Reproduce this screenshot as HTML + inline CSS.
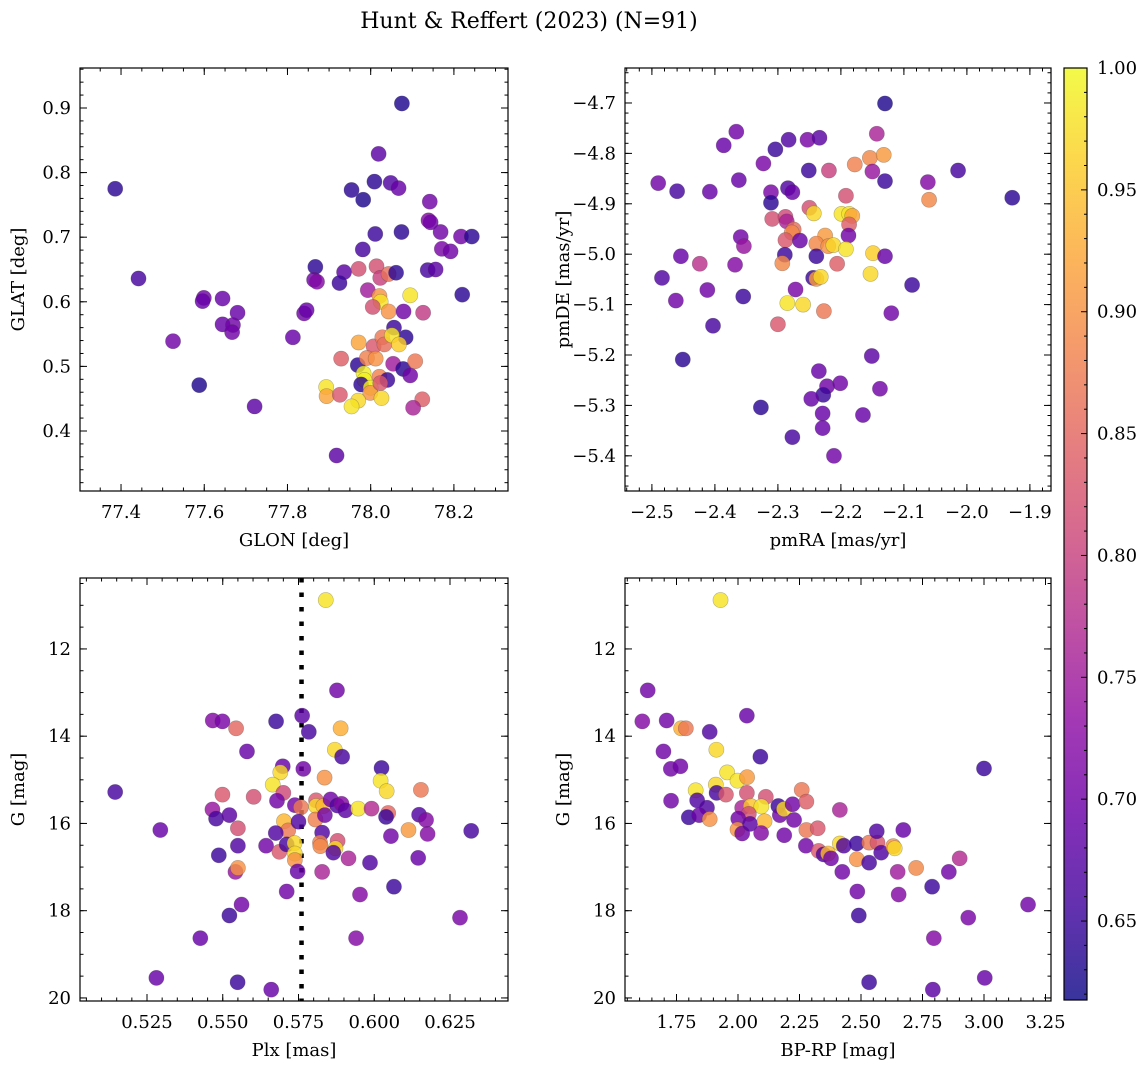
<!DOCTYPE html>
<html><head><meta charset="utf-8"><style>
body{margin:0;background:#fff;}
svg{display:block;font-family:"DejaVu Serif","Liberation Serif",serif;}
</style></head><body>
<svg id="fig" width="1148" height="1068" viewBox="0 0 1148 1068">
<defs>
<linearGradient id="cbg" x1="0" y1="1" x2="0" y2="0">
<stop offset="0" stop-color="#0d0887"/><stop offset="0.1" stop-color="#41049d"/><stop offset="0.2" stop-color="#6a00a8"/><stop offset="0.3" stop-color="#8f0da4"/><stop offset="0.4" stop-color="#b12a90"/><stop offset="0.5" stop-color="#cc4778"/><stop offset="0.6" stop-color="#e16462"/><stop offset="0.7" stop-color="#f2844b"/><stop offset="0.8" stop-color="#fca636"/><stop offset="0.9" stop-color="#fcce25"/><stop offset="1" stop-color="#f0f921"/>
</linearGradient>
</defs>
<text x="529" y="28" font-size="22" text-anchor="middle">Hunt &amp; Reffert (2023) (N=91)</text>
</svg>
<script>
// ---- data (panel 1: GLON vs GLAT)
const p1Glon=[78.075,78.019,77.386,77.954,78.009,78.048,78.067,77.982,78.142,78.139,78.144,78.011,78.074,78.168,78.217,78.243,77.981,78.171,78.192,77.442,77.867,77.936,77.971,78.014,78.023,78.043,78.061,78.137,78.156,77.864,77.871,77.925,77.993,78.021,78.024,78.095,78.005,78.043,78.079,78.126,78.220,77.599,77.596,77.644,77.680,77.644,77.669,77.667,77.525,77.840,77.846,77.813,78.056,78.084,77.971,78.007,78.028,78.033,78.051,78.068,77.929,77.969,77.991,78.012,78.054,78.078,78.095,78.107,77.983,77.985,77.977,78.021,78.040,78.000,77.999,78.023,77.893,77.894,77.926,77.970,77.954,78.026,78.124,78.102,77.588,77.721,77.918];
const p1Glat=[0.907,0.829,0.775,0.773,0.786,0.784,0.776,0.758,0.755,0.726,0.723,0.705,0.708,0.708,0.701,0.701,0.681,0.682,0.678,0.636,0.654,0.646,0.651,0.655,0.637,0.643,0.645,0.649,0.650,0.634,0.631,0.629,0.618,0.609,0.600,0.610,0.592,0.585,0.585,0.583,0.611,0.606,0.601,0.605,0.583,0.565,0.564,0.553,0.539,0.582,0.587,0.545,0.560,0.545,0.537,0.531,0.545,0.534,0.548,0.534,0.512,0.502,0.513,0.512,0.504,0.496,0.486,0.508,0.489,0.479,0.472,0.484,0.479,0.467,0.459,0.474,0.468,0.454,0.456,0.447,0.438,0.451,0.449,0.436,0.471,0.438,0.362];
const p1Prob=[.63,.68,.64,.64,.64,.67,.69,.63,.70,.72,.70,.65,.64,.70,.70,.64,.66,.71,.70,.66,.64,.68,.82,.82,.80,.86,.64,.66,.68,.70,.72,.65,.75,.90,.98,.98,.82,.90,.70,.79,.64,.70,.69,.69,.69,.69,.70,.70,.70,.70,.69,.69,.65,.64,.92,.83,.87,.86,.98,.96,.84,.64,.88,.90,.75,.64,.70,.87,.99,.99,.64,.88,.65,.99,.90,.83,.98,.92,.83,.97,.98,.97,.84,.76,.63,.68,.68];
// ---- panel 2: pmRA vs pmDE
const p2PmRA=[-2.130,-2.366,-2.386,-2.283,-2.304,-2.253,-2.234,-2.143,-2.323,-2.251,-2.219,-2.178,-2.154,-2.132,-2.150,-2.130,-2.014,-2.062,-1.928,-2.060,-2.490,-2.460,-2.408,-2.362,-2.311,-2.284,-2.277,-2.311,-2.192,-2.250,-2.243,-2.309,-2.288,-2.286,-2.275,-2.278,-2.288,-2.265,-2.199,-2.187,-2.182,-2.187,-2.188,-2.225,-2.239,-2.220,-2.212,-2.192,-2.149,-2.130,-2.359,-2.354,-2.289,-2.239,-2.206,-2.293,-2.454,-2.424,-2.368,-2.484,-2.244,-2.239,-2.232,-2.153,-2.087,-2.412,-2.462,-2.355,-2.272,-2.285,-2.260,-2.227,-2.120,-2.300,-2.403,-2.451,-2.151,-2.235,-2.222,-2.201,-2.228,-2.138,-2.247,-2.327,-2.229,-2.165,-2.229,-2.277,-2.211];
const p2PmDE=[-4.701,-4.757,-4.784,-4.773,-4.792,-4.773,-4.769,-4.761,-4.820,-4.834,-4.834,-4.822,-4.809,-4.803,-4.836,-4.855,-4.834,-4.857,-4.888,-4.892,-4.859,-4.875,-4.876,-4.853,-4.877,-4.869,-4.877,-4.898,-4.884,-4.908,-4.919,-4.930,-4.926,-4.935,-4.951,-4.957,-4.972,-4.973,-4.920,-4.920,-4.924,-4.941,-4.963,-4.963,-4.979,-4.984,-4.982,-4.990,-4.998,-5.004,-4.966,-4.984,-5.001,-5.004,-5.019,-5.018,-5.004,-5.019,-5.021,-5.047,-5.047,-5.049,-5.045,-5.039,-5.061,-5.071,-5.092,-5.084,-5.070,-5.097,-5.100,-5.113,-5.117,-5.139,-5.142,-5.209,-5.202,-5.232,-5.262,-5.256,-5.279,-5.267,-5.287,-5.304,-5.316,-5.319,-5.345,-5.363,-5.400];
const p2Prob=[.63,.70,.69,.67,.65,.71,.68,.76,.71,.65,.80,.88,.89,.91,.74,.65,.66,.72,.64,.89,.70,.66,.69,.69,.71,.67,.69,.64,.82,.82,.97,.82,.81,.76,.86,.89,.83,.69,.98,.98,.92,.84,.70,.91,.89,.90,.97,.98,.96,.69,.70,.74,.65,.65,.84,.89,.69,.78,.72,.67,.65,.91,.97,.97,.65,.70,.70,.65,.71,.98,.97,.87,.70,.83,.66,.64,.68,.69,.70,.70,.65,.70,.69,.64,.69,.69,.69,.66,.70];
// ---- panel 3: Plx vs G
const p3Plx=[0.584,0.5877,0.5467,0.5499,0.5544,0.5676,0.5762,0.5784,0.5889,0.5870,0.5894,0.5580,0.5698,0.5690,0.5665,0.5766,0.5836,0.6024,0.6021,0.6041,0.6154,0.5145,0.5499,0.5602,0.5700,0.5679,0.5738,0.5758,0.5808,0.5808,0.5832,0.5856,0.5878,0.5892,0.5905,0.5947,0.5991,0.6046,0.6039,0.6148,0.6171,0.6320,0.6113,0.6176,0.6055,0.5466,0.5478,0.5522,0.5294,0.5550,0.5702,0.5716,0.5750,0.5806,0.5837,0.5675,0.5828,0.5879,0.5821,0.5822,0.5872,0.5865,0.5915,0.5986,0.6145,0.5550,0.5487,0.5643,0.5687,0.5711,0.5737,0.5738,0.5738,0.5747,0.5828,0.5542,0.5550,0.5711,0.5953,0.6065,0.5562,0.5522,0.6283,0.5426,0.5940,0.5281,0.5549,0.5660];
const p3G=[10.88,12.95,13.64,13.66,13.82,13.66,13.53,13.90,13.82,14.31,14.47,14.35,14.69,14.83,15.11,14.75,14.95,14.73,15.02,15.26,15.23,15.28,15.34,15.39,15.30,15.48,15.58,15.63,15.47,15.60,15.60,15.45,15.59,15.55,15.70,15.66,15.66,15.76,15.85,15.80,15.92,16.17,16.15,16.24,16.29,15.68,15.89,15.81,16.15,16.11,15.95,16.16,15.96,15.91,15.81,16.22,16.21,16.40,16.44,16.52,16.57,16.67,16.80,16.90,16.79,16.51,16.73,16.51,16.65,16.48,16.45,16.69,16.84,17.10,17.11,17.11,17.02,17.56,17.63,17.45,17.86,18.11,18.16,18.63,18.63,19.54,19.64,19.81];
const p3Prob=[.98,.70,.72,.71,.85,.65,.68,.66,.93,.97,.66,.69,.69,.97,.98,.70,.90,.65,.98,.97,.87,.66,.83,.82,.81,.70,.70,.87,.83,.97,.94,.70,.67,.72,.68,.98,.77,.85,.65,.67,.72,.66,.91,.72,.70,.74,.66,.68,.69,.82,.94,.87,.67,.88,.70,.67,.67,.82,.88,.89,.97,.67,.76,.67,.69,.67,.65,.70,.83,.66,.97,.97,.90,.69,.76,.74,.90,.70,.72,.65,.70,.65,.71,.69,.72,.69,.65,.69];
const plxRef=0.576;
// ---- panel 4: BP-RP vs G
const p4Color=[1.929,1.633,1.611,1.710,1.769,1.788,1.885,2.036,1.912,2.091,1.697,1.727,1.766,1.956,1.998,2.037,1.910,3.000,1.728,1.828,1.834,1.913,1.951,1.874,1.800,1.842,1.885,2.036,2.113,2.017,2.052,2.095,2.044,2.001,1.998,2.017,2.049,2.108,2.094,2.164,2.170,2.187,2.222,2.228,2.188,2.259,2.278,2.278,2.324,2.276,2.414,2.328,2.348,2.366,2.378,2.414,2.430,2.483,2.533,2.567,2.564,2.582,2.631,2.637,2.672,2.483,2.533,2.424,2.649,2.724,2.901,2.857,2.485,2.653,2.789,2.491,2.936,3.179,2.796,2.533,2.792,3.003];
const p4G=[10.88,12.95,13.66,13.64,13.82,13.82,13.90,13.53,14.31,14.47,14.35,14.75,14.69,14.83,15.02,14.94,15.11,14.74,15.48,15.24,15.47,15.30,15.34,15.64,15.86,15.81,15.90,15.30,15.39,15.64,15.60,15.61,15.78,15.89,16.14,16.23,16.01,15.95,16.22,15.60,15.81,15.67,15.56,15.92,16.27,15.23,15.50,16.15,16.11,16.51,15.69,16.63,16.71,16.69,16.80,16.46,16.51,16.46,16.44,16.44,16.18,16.67,16.52,16.57,16.15,16.82,16.90,17.11,17.11,17.02,16.80,17.11,17.56,17.63,17.45,18.11,18.16,17.86,18.63,19.64,19.81,19.54];
const p4Prob=[.98,.70,.72,.70,.93,.87,.67,.69,.97,.65,.70,.70,.70,.98,.98,.91,.97,.65,.70,.98,.67,.66,.83,.67,.65,.69,.90,.82,.82,.76,.95,.98,.82,.70,.90,.70,.68,.94,.72,.65,.70,.97,.70,.70,.70,.87,.84,.87,.83,.70,.76,.83,.67,.94,.70,.97,.67,.65,.87,.83,.67,.67,.90,.97,.69,.90,.66,.70,.75,.89,.77,.70,.70,.72,.65,.65,.71,.70,.72,.65,.68,.69];
// ---- tick labels
const p1XTicks=[77.4,77.6,77.8,78.0,78.2];
const p1YTicks=[0.4,0.5,0.6,0.7,0.8,0.9];
const p2XTicks=[-2.5,-2.4,-2.3,-2.2,-2.1,-2.0,-1.9];
const p2YTicks=[-5.4,-5.3,-5.2,-5.1,-5.0,-4.9,-4.8,-4.7];
const p3XTicks=[0.525,0.550,0.575,0.600,0.625];
const gTicks=[12,14,16,18,20];
const p4XTicks=[1.75,2.00,2.25,2.50,2.75,3.00,3.25];
const cbTicks=[0.65,0.70,0.75,0.80,0.85,0.90,0.95,1.00];
const vmin=0.6176, vmax=1.0;

const NS='http://www.w3.org/2000/svg';
const svg=document.getElementById('fig');
const TF=18;
function mk(tag,attrs,parent){const e=document.createElementNS(NS,tag);for(const k in attrs)e.setAttribute(k,attrs[k]);(parent||svg).appendChild(e);return e;}
const stops=[[13,8,135],[65,4,157],[106,0,168],[143,13,164],[177,42,144],[204,71,120],[225,100,98],[242,132,75],[252,166,54],[252,206,37],[240,249,33]];
function cmap(p){let t=(p-vmin)/(vmax-vmin);t=Math.max(0,Math.min(1,t))*10;const i=Math.min(9,Math.floor(t)),f=t-i;const a=stops[i],b=stops[i+1];return 'rgb('+a.map((v,k)=>Math.round(v+(b[k]-v)*f)).join(',')+')';}
function fmt(v,d){const s=Math.abs(v).toFixed(d);return (v<0?'\u2212':'')+s;}

function panel(cfg){
  const {L,T,W,H,x0,x1,y0,y1,name}=cfg;
  const sx=v=>L+(v-x0)/(x1-x0)*W;
  const sy=cfg.invert? (v=>T+(v-y0)/(y1-y0)*H) : (v=>T+H-(v-y0)/(y1-y0)*H);
  const g=mk('g',{});
  
  
  const tg=mk('g',{stroke:'#000','stroke-width':1},g);
  function ticksX(start,step,len){for(let v=start;v<=x1+1e-9;v+=step){if(v<x0-1e-9)continue;const x=sx(v);mk('line',{x1:x,x2:x,y1:T+H,y2:T+H-len},tg);mk('line',{x1:x,x2:x,y1:T,y2:T+len},tg);}}
  function ticksY(start,step,len){for(let v=start;v<=Math.max(y0,y1)+1e-9;v+=step){if(v<Math.min(y0,y1)-1e-9)continue;const y=sy(v);mk('line',{x1:L,x2:L+len,y1:y,y2:y},tg);mk('line',{x1:L+W,x2:L+W-len,y1:y,y2:y},tg);}}
  ticksX(cfg.xmStart,cfg.xm,3.5);ticksX(cfg.xMStart,cfg.xM,7);
  ticksY(cfg.ymStart,cfg.ym,3.5);ticksY(cfg.yMStart,cfg.yM,7);
  cfg.xt.forEach(v=>{const t=mk('text',{x:sx(v),y:T+H+27,'font-size':TF,'text-anchor':'middle'},g);t.textContent=fmt(v,cfg.xd);
    
    });
  cfg.yt.forEach(v=>{const t=mk('text',{x:L-9,y:sy(v)+6,'font-size':TF,'text-anchor':'end'},g);t.textContent=fmt(v,cfg.yd);
    
    });
  const xl=mk('text',{x:L+W/2,y:T+H+55,'font-size':TF,'text-anchor':'middle'},g);xl.textContent=cfg.xlab;
  
  
  const yl=mk('text',{x:0,y:0,'font-size':TF,'text-anchor':'middle',transform:`translate(${L-56},${T+H/2}) rotate(-90)`},g);yl.textContent=cfg.ylab;
  
  
  if(cfg.vline!==undefined){const l=mk('line',{x1:sx(cfg.vline),x2:sx(cfg.vline),y1:T,y2:T+H,stroke:'#000','stroke-width':4.5,'stroke-dasharray':'4.5 10'},g);
    
    }
  const pg=mk('g',{},g);
  cfg.xs.forEach((v,i)=>{const c=mk('circle',{cx:sx(v),cy:sy(cfg.ys[i]),r:7.6,fill:cmap(cfg.ps[i]),'fill-opacity':0.82,stroke:'rgba(60,60,60,0.35)','stroke-width':0.6},pg);
    
    });
  const fr=mk('rect',{x:L,y:T,width:W,height:H,fill:'none',stroke:'#000','stroke-width':1.2},g);
  
  
}
panel({name:'panel-glon-glat',L:80,T:68,W:428,H:423,x0:77.3014,x1:78.33,y0:0.3071,y1:0.9619,xs:p1Glon,ys:p1Glat,ps:p1Prob,
  xM:0.2,xMStart:77.4,xm:0.05,xmStart:77.35,yM:0.1,yMStart:0.4,ym:0.02,ymStart:0.32,xt:p1XTicks,yt:p1YTicks,xd:1,yd:1,xlab:'GLON [deg]',ylab:'GLAT [deg]'});
panel({name:'panel-pm',L:625,T:68,W:426,H:423,x0:-2.5427,x1:-1.8665,y0:-5.4698,y1:-4.6306,xs:p2PmRA,ys:p2PmDE,ps:p2Prob,
  xM:0.1,xMStart:-2.5,xm:0.02,xmStart:-2.54,yM:0.1,yMStart:-5.4,ym:0.02,ymStart:-5.46,xt:p2XTicks,yt:p2YTicks,xd:1,yd:1,xlab:'pmRA [mas/yr]',ylab:'pmDE [mas/yr]'});
panel({name:'panel-plx-g',L:80,T:578,W:428,H:423,x0:0.50289,x1:0.64414,y0:10.374,y1:20.07,invert:true,xs:p3Plx,ys:p3G,ps:p3Prob,vline:plxRef,
  xM:0.025,xMStart:0.525,xm:0.005,xmStart:0.505,yM:2,yMStart:12,ym:0.5,ymStart:10.5,xt:p3XTicks,yt:gTicks,xd:3,yd:0,xlab:'Plx [mas]',ylab:'G [mag]'});
panel({name:'panel-cmd',L:625,T:578,W:426,H:423,x0:1.5407,x1:3.2723,y0:10.374,y1:20.07,invert:true,xs:p4Color,ys:p4G,ps:p4Prob,
  xM:0.25,xMStart:1.75,xm:0.05,xmStart:1.55,yM:2,yMStart:12,ym:0.5,ymStart:10.5,xt:p4XTicks,yt:gTicks,xd:2,yd:0,xlab:'BP-RP [mag]',ylab:'G [mag]'});
// colorbar
const cbT=68,cbB=1000,cbL=1064,cbW=23;
const cby=v=>cbB-(v-vmin)/(vmax-vmin)*(cbB-cbT);
const cbr=mk('rect',{x:cbL,y:cbT,width:cbW,height:cbB-cbT,fill:'url(#cbg)','fill-opacity':0.82,stroke:'#000','stroke-width':1.2});


for(let v=0.62;v<=1.0001;v+=0.01){const y=cby(v);const major=Math.abs(Math.round(v*100)%5)<0.01;mk('line',{x1:cbL+cbW,x2:cbL+cbW-(major?6:3),y1:y,y2:y,stroke:'#000','stroke-width':1});}
cbTicks.forEach(v=>{const t=mk('text',{x:cbL+cbW+10,y:cby(v)+6,'font-size':TF});t.textContent=v.toFixed(2);
  
  });
</script>
</body></html>
